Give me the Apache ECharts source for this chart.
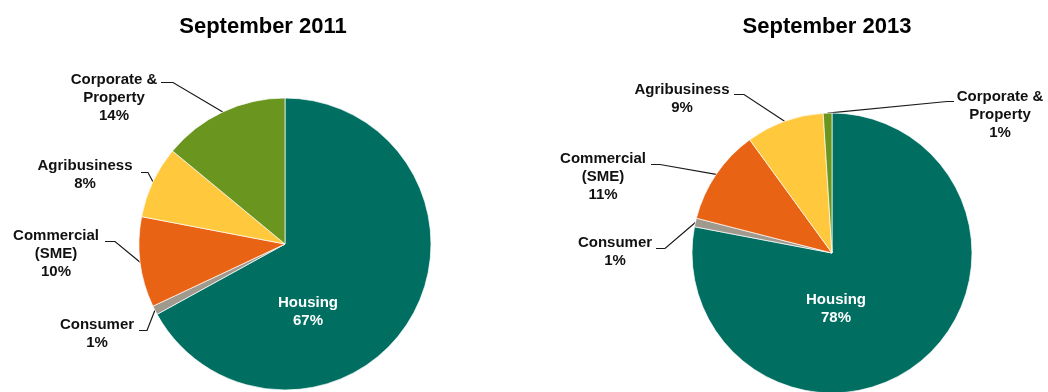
<!DOCTYPE html>
<html>
<head>
<meta charset="utf-8">
<script src="https://cdn.jsdelivr.net/npm/echarts@6/dist/echarts.min.js"></script>
<style>
  html, body { margin: 0; padding: 0; background: #fff; }
  #chart { width: 1048px; height: 392px; }
</style>
</head>
<body>
<div id="chart"></div>
<script>
// ---- data ----
const CATEGORIES = ['Housing', 'Consumer', 'Commercial\n(SME)', 'Agribusiness', 'Corporate &\nProperty'];
const VALUES_2011 = [67, 1, 10, 8, 14];
const VALUES_2013 = [78, 1, 11, 9, 1];
const TITLES = ['September 2011', 'September 2013'];

// ---- styles / layout ----
const COLORS = ['#006F62', '#A09A8E', '#E96315', '#FFC83D', '#6A961F'];
const FONT = "'Liberation Sans', Arial, sans-serif";
const PIE_LAYOUT = [
  { center: [285, 244], radius: 146, titleX: 258 },
  { center: [832, 253], radius: 140, titleX: 822 }
];
// label block centre x, first-line centre y, leader attach point (ax, ay), elbow x (ex)
const LABEL_POS = [
  [
    { x: 308, y: 303 },
    { x: 97, y: 325, ax: 139, ay: 330, ex: 147 },
    { x: 56, y: 236, ax: 105, ay: 241, ex: 115 },
    { x: 85, y: 166, ax: 141, ay: 172, ex: 148 },
    { x: 114, y: 80, ax: 161, ay: 82, ex: 173 }
  ],
  [
    { x: 836, y: 300 },
    { x: 615, y: 243, ax: 656, ay: 248, ex: 665 },
    { x: 603, y: 159, ax: 651, ay: 164, ex: 660 },
    { x: 682, y: 90, ax: 734, ay: 94, ex: 744 },
    { x: 1000, y: 97, ax: 954, ay: 101, ex: 947 }
  ]
];
const LINE_H = 18;

function buildData(values) {
  return values.map((v, i) => {
    const item = { name: CATEGORIES[i], value: v, itemStyle: { color: COLORS[i] } };
    if (i === 0) {
      item.label = { position: 'inside', color: '#ffffff' };
      item.labelLine = { show: false };
    }
    return item;
  });
}

const chart = echarts.init(document.getElementById('chart'), null, { renderer: 'canvas' });

const series = [VALUES_2011, VALUES_2013].map((vals, s) => ({
  type: 'pie',
  center: PIE_LAYOUT[s].center,
  radius: PIE_LAYOUT[s].radius,
  startAngle: 90,
  clockwise: true,
  avoidLabelOverlap: false,
  animation: false,
  itemStyle: { borderColor: '#ffffff', borderWidth: 0.7 },
  label: {
    show: true,
    position: 'outside',
    formatter: '{b}\n{c}%',
    fontFamily: FONT,
    fontSize: 15,
    fontWeight: 'bold',
    lineHeight: LINE_H,
    color: '#111111',
    align: 'center'
  },
  labelLine: {
    show: true,
    length: 10,
    length2: 10,
    lineStyle: { color: '#1a1a1a', width: 1.2 }
  },
  emphasis: { disabled: true },
  labelLayout: function (p) {
    const pos = LABEL_POS[s][p.dataIndex];
    const out = {
      x: pos.x,
      y: pos.y - LINE_H / 2,
      align: 'center',
      verticalAlign: 'top'
    };
    if (pos.ax != null && p.labelLinePoints) {
      out.labelLinePoints = [
        p.labelLinePoints[0],
        [pos.ex, pos.ay + 0.5],
        [pos.ax, pos.ay + 0.5]
      ];
    }
    return out;
  },
  data: buildData(vals)
}));

chart.setOption({
  backgroundColor: '#ffffff',
  animation: false,
  title: TITLES.map((t, i) => ({
    text: t,
    left: PIE_LAYOUT[i].titleX,
    top: 11,
    textAlign: 'center',
    textStyle: { fontFamily: FONT, fontSize: 22, fontWeight: 'bold', color: '#000000' }
  })),
  series: series
});
</script>
</body>
</html>
